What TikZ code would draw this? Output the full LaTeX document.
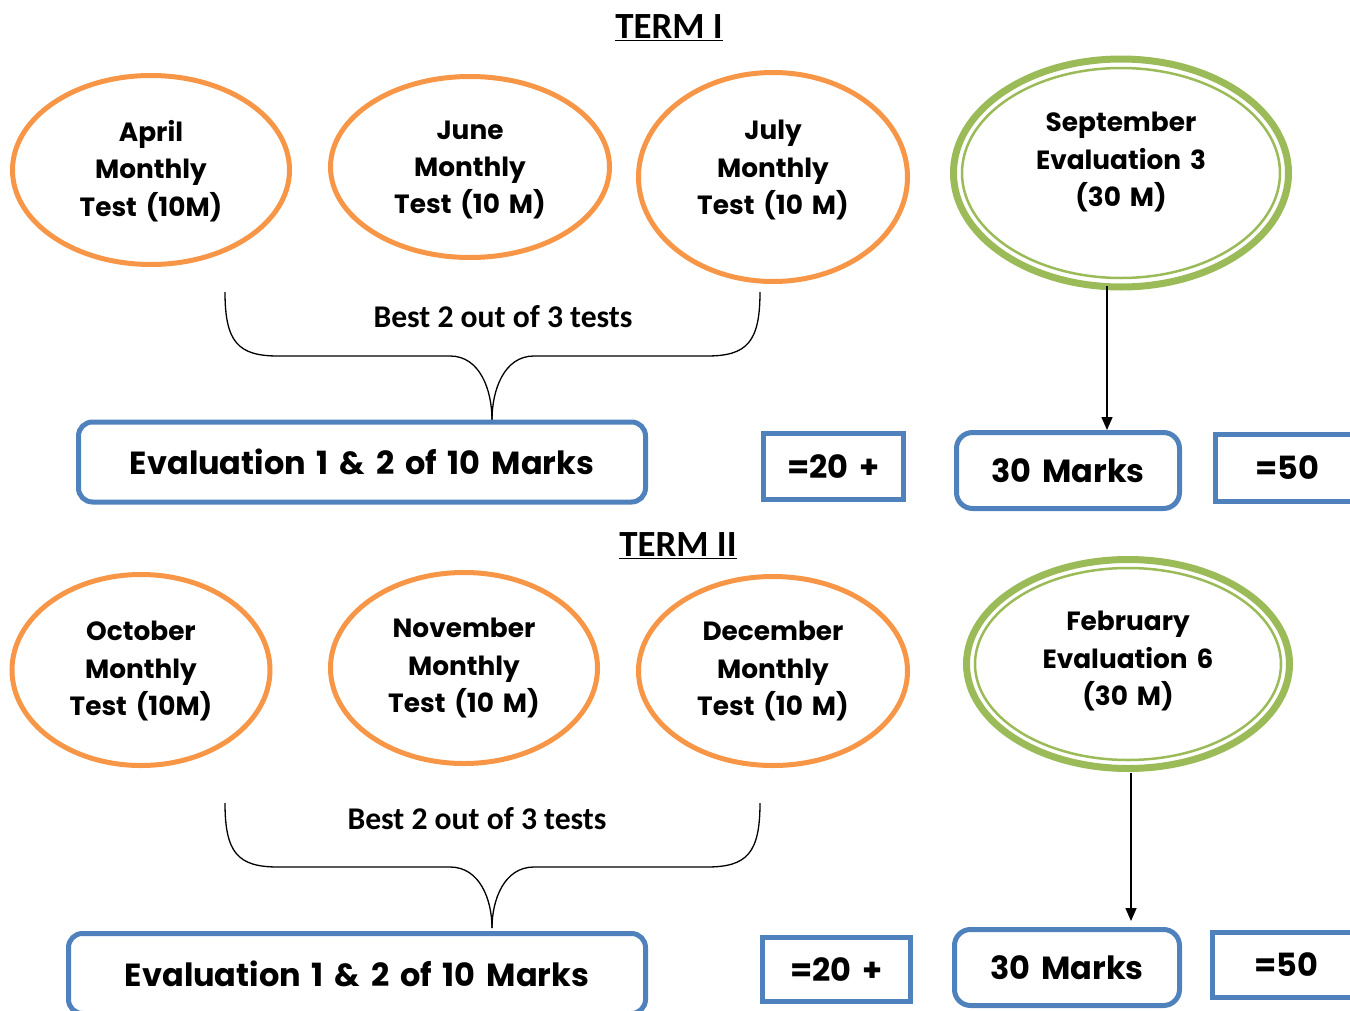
\documentclass[tikz,border=0pt]{standalone}
\usepackage{fontspec}
\setmainfont{Carlito}
\newfontfamily\comic{Poppins}[WordSpace=1.6]
\usetikzlibrary{shapes.geometric,arrows.meta,calc}
\definecolor{orng}{HTML}{F79646}
\definecolor{grn}{HTML}{9BBB59}
\definecolor{blu}{HTML}{4F81BD}
\newcommand{\pxu}{0.02cm}
\begin{document}
\begin{tikzpicture}[x=0.02cm,y=-0.02cm,
  oval/.style={ellipse, draw=orng, line width=5*\pxu, inner sep=0pt},
  goval/.style={ellipse, draw=grn, line width=7*\pxu, inner sep=0pt},
  otext/.style={align=center, inner sep=0pt, font=\comic\bfseries\fontsize{15}{21.3}\selectfont},
  rbox/.style={draw=blu, line width=5*\pxu, rounded corners=14*\pxu, inner sep=0pt,
    font=\comic\bfseries\fontsize{18.2}{22}\selectfont},
  sbox/.style={draw=blu, line width=5*\pxu, inner sep=0pt,
    font=\comic\bfseries\fontsize{18.2}{22}\selectfont},
  brace/.style={black, line width=1.3*\pxu},
  arr/.style={black, line width=1.5*\pxu, -{Triangle[length=0.26cm,width=0.22cm]}},
  title/.style={font=\bfseries\fontsize{21}{24}\selectfont, inner sep=0pt},
  best/.style={font=\bfseries\fontsize{18}{20}\selectfont, inner sep=0pt}]
\useasboundingbox (0,0) rectangle (1350,1011);
\clip (0,0) rectangle (1350,1011);

% ---------- TERM I ----------
\node[title] (t1) at (669,28) {\underline{TERM I}};
\node[oval, minimum width=277*\pxu, minimum height=189*\pxu] (apr) at (151,170) {};
\node[otext] (aprt) at (151,171) {April\\Monthly\\Test (10M)};
\node[oval, minimum width=279*\pxu, minimum height=181*\pxu] (jun) at (470,167) {};
\node[otext] (junt) at (470,170) {June\\Monthly\\Test (10 M)};
\node[oval, minimum width=269*\pxu, minimum height=209*\pxu] (jul) at (773,177) {};
\node[otext] (jult) at (773,170) {July\\Monthly\\Test (10 M)};
\node[goval, minimum width=335*\pxu, minimum height=228*\pxu] (sep) at (1121,173) {};
\draw[grn, line width=2.5*\pxu] (sep.center) ellipse [x radius=159*\pxu, y radius=105*\pxu];
\node[otext] (sept) at (1121,162) {September\\Evaluation 3\\(30 M)};

\draw[brace] (225,292) .. controls (225,342) and (238,356) .. (278,356) -- (450,356)
  .. controls (480,356) and (492,390) .. (492,420);
\draw[brace] (760,292) .. controls (760,342) and (747,356) .. (707,356) -- (534,356)
  .. controls (504,356) and (492,390) .. (492,420);
\node[best] (b1) at (503,317) {Best 2 out of 3 tests};

\node[rbox, minimum width=567*\pxu, minimum height=80*\pxu] (ev1) at (362,462) {Evaluation 1 \& 2 of 10 Marks};
\node[sbox, minimum width=140*\pxu, minimum height=66*\pxu] (p1) at (833.5,466.5) {=20 +};
\node[rbox, minimum width=223*\pxu, minimum height=76*\pxu, rounded corners=16*\pxu] (m1) at (1068,470.5) {30 Marks};
\node[sbox, minimum width=144*\pxu, minimum height=67*\pxu] (f1) at (1287.5,468) {=50};
\coordinate (a1) at (1107,286);
\draw[arr] (a1) -- (a1 |- m1.north);

% ---------- TERM II ----------
\node[title] (t2) at (678,546) {\underline{TERM II}};
\node[oval, minimum width=258*\pxu, minimum height=191*\pxu] (oct) at (141,670) {};
\node[otext] (octt) at (141,671) {October\\Monthly\\Test (10M)};
\node[oval, minimum width=267*\pxu, minimum height=191*\pxu] (nov) at (464,668) {};
\node[otext] (novt) at (464,668) {November\\Monthly\\Test (10 M)};
\node[oval, minimum width=269*\pxu, minimum height=189*\pxu] (dec) at (773,671) {};
\node[otext] (dect) at (773,671) {December\\Monthly\\Test (10 M)};
\node[goval, minimum width=323*\pxu, minimum height=209*\pxu] (feb) at (1128,664) {};
\draw[grn, line width=2.5*\pxu] (feb.center) ellipse [x radius=153*\pxu, y radius=96*\pxu];
\node[otext] (febt) at (1128,661) {February\\Evaluation 6\\(30 M)};

\draw[brace] (225,803) .. controls (225,853) and (238,867) .. (278,867) -- (450,867)
  .. controls (480,867) and (492,900) .. (492,928);
\draw[brace] (760,803) .. controls (760,853) and (747,867) .. (707,867) -- (534,867)
  .. controls (504,867) and (492,900) .. (492,928);
\node[best] (b2) at (477,819) {Best 2 out of 3 tests};

\node[rbox, minimum width=577*\pxu, minimum height=80*\pxu] (ev2) at (357,973.5) {Evaluation 1 \& 2 of 10 Marks};
\node[sbox, minimum width=148*\pxu, minimum height=64*\pxu] (p2) at (836.5,969.5) {=20 +};
\node[rbox, minimum width=225*\pxu, minimum height=76*\pxu, rounded corners=16*\pxu] (m2) at (1067,967.5) {30 Marks};
\node[sbox, minimum width=147*\pxu, minimum height=65*\pxu] (f2) at (1286,965) {=50};
\coordinate (a2) at (1131,773);
\draw[arr] (a2) -- ($(a2 |- m2.north)+(0,-6)$);
\end{tikzpicture}
\end{document}
